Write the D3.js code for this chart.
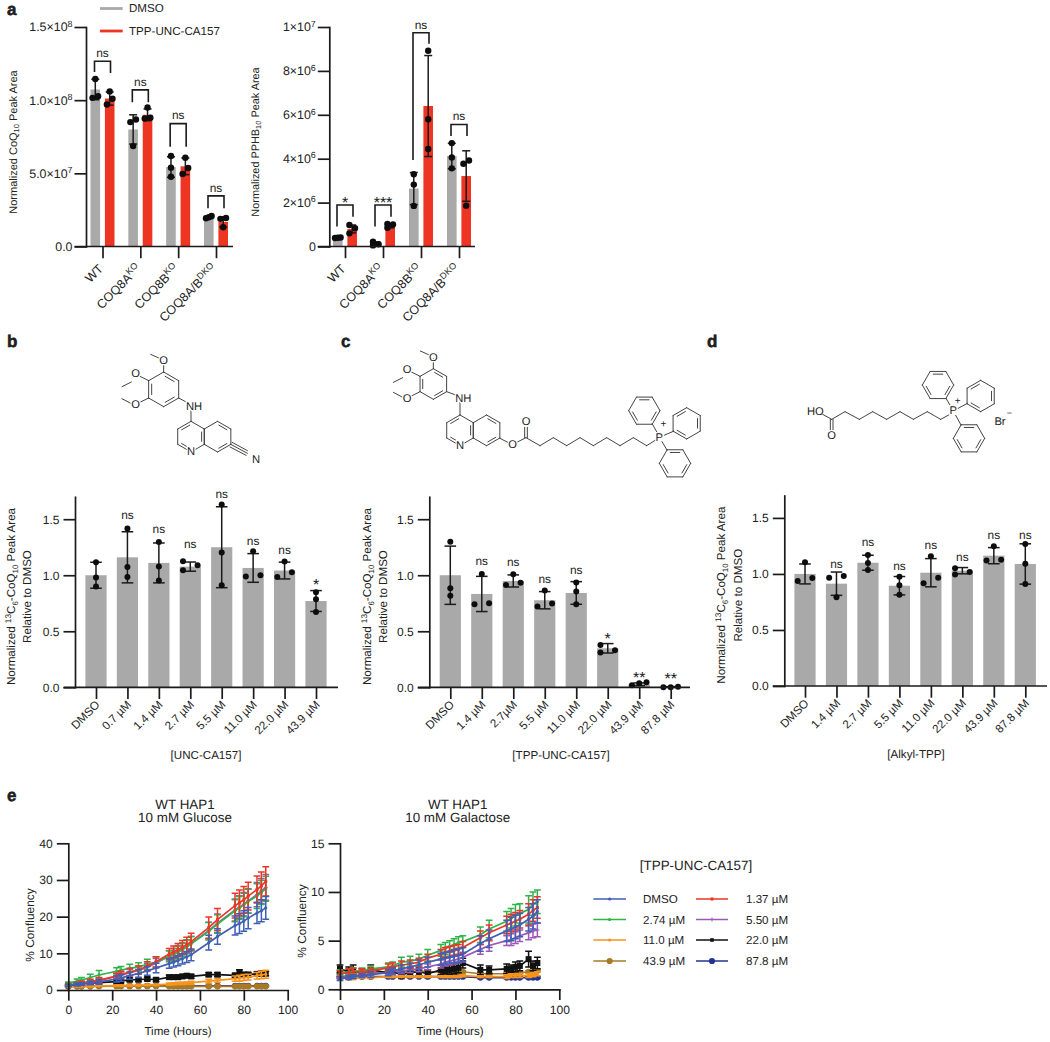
<!DOCTYPE html>
<html><head><meta charset="utf-8">
<script src="https://cdn.jsdelivr.net/npm/d3@7"></script>
<style>html,body{margin:0;padding:0;background:#fff}svg{display:block;text-rendering:geometricPrecision}text{font-family:"Liberation Sans",Arial,sans-serif;fill:#222}</style>
</head><body><svg id="c" width="1050" height="1042"></svg>
<script>
// ---------- panel a ----------
const aCats = ["WT","COQ8A^{KO}","COQ8B^{KO}","COQ8A/B^{DKO}"];
const a1TickVals = [0,0.5,1,1.5];
const a1TickLabels = ["0.0","5.0×10^{7}","1.0×10^{8}","1.5×10^{8}"];
const a1GrayMean = [1.073,0.80,0.543,0.20];
const a1GrayErr  = [0.07,0.10,0.07,0.01];
const a1GrayPts  = [[1.145,1.027,1.016],[0.868,0.85,0.686],[0.618,0.539,0.477],[0.209,0.2,0.193]];
const a1RedMean  = [1.011,0.90,0.548,0.168];
const a1RedErr   = [0.045,0.04,0.057,0.035];
const a1RedPts   = [[1.06,1.01,0.97],[0.95,0.88,0.875],[0.607,0.536,0.495],[0.195,0.189,0.132]];
const a1Brackets = [[1.266,1.193,1.186],[1.07,0.986,0.986],[0.84,0.682,0.682],[0.346,0.261,0.261]];
const a1Sig = ["ns","ns","ns","ns"];

const a2TickVals = [0,2,4,6,8,10];
const a2TickLabels = ["0","2×10^{6}","4×10^{6}","6×10^{6}","8×10^{6}","1×10^{7}"];
const a2GrayMean = [0.40,0.13,2.64,4.12];
const a2GrayErr  = [0.02,0.08,0.73,0.58];
const a2GrayPts  = [[0.41,0.40,0.39],[0.22,0.10,0.05],[3.29,2.82,1.85],[4.71,4.06,3.56]];
const a2RedMean  = [0.80,0.94,6.40,3.21];
const a2RedErr   = [0.18,0.09,2.30,1.15];
const a2RedPts   = [[0.98,0.83,0.60],[1.03,1.00,0.85],[8.92,5.80,4.44],[3.92,3.77,1.86]];
const a2Brackets = [[1.89,0.91,1.36],[1.89,0.91,1.36],[9.74,3.94,9.24],[5.56,5.03,5.03]];
const a2Sig = ["*","***","ns","ns"];

// ---------- panel b ----------
const bCats = ["DMSO","0.7 µM","1.4 µM","2.7 µM","5.5 µM","11.0 µM","22.0 µM","43.9 µM"];
const bMean = [1.0,1.16,1.11,1.077,1.25,1.065,1.042,0.77];
const bErr  = [0.116,0.228,0.178,0.041,0.361,0.128,0.075,0.093];
const bPts  = [[1.116,0.98,0.90],[1.417,1.074,0.985],[1.297,1.077,0.952],[1.125,1.09,1.045],[1.631,1.202,0.911],[1.214,1.0,0.988],[1.122,1.027,0.985],[0.848,0.786,0.673]];
const bSig  = ["","ns","ns","ns","ns","ns","ns","*"];
const bSigY = [0,1.50,1.38,1.24,1.685,1.27,1.19,0.865];

// ---------- panel c ----------
const cCats = ["DMSO","1.4 µM","2.7µM","5.5 µM","11.0 µM","22.0 µM","43.9 µM","87.8 µM"];
const cMean = [1.0,0.833,0.949,0.777,0.842,0.348,0.027,0.003];
const cErr  = [0.26,0.157,0.054,0.077,0.101,0.042,0.012,0.003];
const cPts  = [[1.298,0.884,0.818],[1.012,0.75,0.741],[1.009,0.932,0.914],[0.863,0.747,0.72],[0.935,0.854,0.741],[0.378,0.33,0.31],[0.045,0.036,0.018],[0.006,0.0,0.0]];
const cSig  = ["","ns","ns","ns","ns","*","**","**"];
const cSigY = [0,1.092,1.083,0.935,1.009,0.385,0.041,0.028];

// ---------- panel d ----------
const dCats = ["DMSO","1.4 µM","2.7 µM","5.5 µM","11.0 µM","22.0 µM","43.9 µM","87.8 µM"];
const dMean = [1.0,0.913,1.10,0.895,1.011,1.029,1.163,1.089];
const dErr  = [0.089,0.104,0.067,0.082,0.126,0.028,0.072,0.18];
const dPts  = [[1.104,0.963,0.936],[0.981,0.966,0.793],[1.169,1.098,1.035],[0.975,0.898,0.814],[1.157,0.966,0.916],[1.05,1.017,0.996],[1.247,1.127,1.121],[1.268,1.09,0.91]];
const dSig  = ["","ns","ns","ns","ns","ns","ns","ns"];
const dSigY = [0,1.05,1.247,1.035,1.223,1.118,1.315,1.315];
const rateTicks = [0,0.5,1,1.5];

// ---------- panel e ----------
const hours = [0,4,6,10,14,22,24,28,32,36,40,46,48,50,52,54,56,64,68,76,78,80,82,86,88,90];
const doses = ["DMSO","1.37 µM","2.74 µM","5.50 µM","11.0 µM","22.0 µM","43.9 µM","87.8 µM"];
const gluDMSO  = [1.2,1.5,1.6,1.9,2.2,3.0,3.3,3.9,4.5,5.2,6.0,7.2,7.6,8.0,8.5,9.0,9.6,12.9,14.6,17.6,18.1,18.8,19.6,21.0,21.6,22.4];
const gluDMSOe = [.3,.4,.4,.5,.6,.8,.9,1,1.1,1.2,1.3,1.3,1.3,1.4,1.4,1.5,1.6,2.0,2.1,2.6,2.7,2.8,2.9,2.9,3.0,3.1];
const glu137   = [1.3,1.7,1.9,2.3,2.7,3.8,4.2,4.9,5.5,6.5,7.7,9.8,10.4,11.0,11.7,12.4,13.2,17.0,19.2,23.0,23.8,24.6,25.6,27.4,28.4,29.6];
const glu137e  = [.3,.4,.5,.6,.7,.8,.9,1,1.1,1.2,1.4,1.5,1.6,1.7,1.8,2.0,2.3,2.9,3.0,3.4,3.5,3.6,3.8,3.7,3.8,4.0];
const glu274   = [1.8,2.4,2.7,3.4,4.1,5.1,5.4,5.9,6.3,7.0,7.6,9.2,9.7,10.3,11.0,11.8,12.6,16.0,18.0,21.6,22.4,23.2,24.2,25.6,26.6,27.6];
const glu274e  = [.4,.6,.7,.9,1.2,1.0,1.0,1.1,1.1,1.4,1.4,1.5,1.6,1.7,1.8,1.9,2.0,2.4,2.5,3.0,3.1,3.2,3.3,3.4,3.3,3.4];
const glu550   = [1.3,1.7,1.9,2.2,2.6,3.7,4.0,4.7,5.3,6.2,7.3,9.3,9.9,10.6,11.2,11.9,12.7,16.2,18.2,21.8,22.6,23.4,24.3,26,27,28];
const glu550e  = [.3,.4,.4,.5,.6,.8,.9,.9,1,1.1,1.3,1.4,1.4,1.5,1.6,1.7,1.9,2.3,2.5,3,3.1,3.2,3.3,3.3,3.4,3.5];
const glu110   = [.9,1,1,1,1.1,1.2,1.2,1.3,1.3,1.4,1.4,1.6,1.7,1.8,1.8,1.9,2,2.4,2.6,3.1,3.2,3.4,3.5,3.9,4.1,4.3];
const glu110e  = [.1,.1,.1,.1,.1,.15,.15,.2,.2,.2,.2,.3,.3,.3,.3,.3,.4,.5,.5,.7,.8,.8,.8,.9,1.0,1.1];
const glu220   = [1.3,1.6,1.7,1.9,2.0,2.3,2.4,2.8,2.8,3.0,2.8,3.5,3.5,3.5,3.7,3.9,3.7,4.2,4.2,4.0,4.9,4.2,4.2,4.4,4.5,4.5];
const glu220e  = [.2,.3,.3,.3,.3,.4,.4,.5,.5,.5,.5,.5,.5,.5,.5,.5,.5,.5,.5,.5,.6,.6,.6,.6,.6,.6];
const glu439   = [.9,.95,.95,1,1,1.05,1.05,1.05,1.05,1.05,1.05,1,1,1,1,1,1,1,1,1,1,1,1,1,1,1];
const glu439e  = [.1,.1,.1,.1,.1,.1,.1,.1,.1,.1,.1,.1,.1,.1,.1,.1,.1,.1,.1,.1,.1,.1,.1,.1,.1,.1];
const glu878   = [1.05,1.05,1.05,1.05,1.1,1.1,1.1,1.1,1.1,1.1,1.1,1.1,1.1,1.1,1.1,1.1,1.1,1.1,1.1,1.1,1.1,1.1,1.1,1.1,1.1,1.1];
const glu878e  = [.1,.1,.1,.1,.1,.1,.1,.1,.1,.1,.1,.1,.1,.1,.1,.1,.1,.1,.1,.1,.1,.1,.1,.1,.1,.1];

const galDMSO  = [1.1,1.2,1.3,1.4,1.5,1.7,1.9,2.1,2.3,2.5,2.8,3.1,3.2,3.3,3.4,3.5,3.6,4.7,5.2,6.0,6.2,6.4,6.6,7.2,7.5,8.0];
const galDMSOe = [.2,.2,.2,.2,.3,.3,.3,.4,.4,.5,.5,.6,.6,.6,.7,.7,.7,.8,.9,1.1,1.2,1.2,1.2,1.2,1.3,1.2];
const gal137   = [1.6,1.7,1.8,1.8,1.9,2.2,2.3,2.5,2.6,2.8,3.2,3.6,3.8,3.9,4.0,4.1,4.3,5.3,5.8,6.6,6.8,7.0,7.2,7.7,8.1,8.4];
const gal137e  = [.3,.4,.4,.3,.3,.4,.4,.4,.4,.4,.4,.5,.5,.5,.5,.5,.6,.7,.8,.9,.9,.9,.9,1.1,1.1,1.1];
const gal274   = [1.7,1.8,1.9,1.9,2.1,2.3,2.4,2.8,2.9,3.1,3.5,4.0,4.2,4.4,4.6,4.8,4.9,5.6,6.2,7.0,7.3,7.6,7.8,8.2,8.8,9.0];
const gal274e  = [.3,.3,.3,.3,.3,.4,.4,.5,.5,.5,.6,.6,.6,.6,.6,.6,.6,.8,.9,1.0,1.0,1.1,1.0,1.4,1.2,1.2];
const gal550   = [1.3,1.4,1.4,1.5,1.6,1.7,1.8,1.9,2.0,2.1,2.3,2.6,2.8,2.9,3.0,3.1,3.3,4.1,4.5,5.0,5.1,5.3,5.5,5.8,6.0,6.1];
const gal550e  = [.2,.2,.2,.2,.2,.2,.3,.3,.3,.3,.3,.4,.4,.4,.4,.4,.5,.5,.6,.5,.6,.6,.6,.7,.7,.7];
const gal110   = [1.2,1.1,1.1,1.2,1.2,1.3,1.3,1.3,1.3,1.3,1.3,1.3,1.3,1.3,1.3,1.3,1.4,1.3,1.3,1.3,1.4,1.4,1.4,1.4,1.5,1.6];
const gal110e  = [.1,.1,.1,.1,.1,.1,.1,.1,.1,.1,.1,.1,.1,.1,.1,.1,.1,.1,.1,.2,.2,.2,.2,.2,.2,.2];
const gal220   = [2.1,1.8,1.9,1.7,2.0,1.7,1.8,1.5,1.7,1.8,1.6,2.0,2.0,2.0,2.1,2.2,2.7,2.0,2.0,2.1,2.1,2.3,2.4,3.1,2.4,2.7];
const gal220e  = [.4,.5,.6,.4,.5,.5,.5,.4,.5,.4,.4,.5,.4,.5,.5,.5,.5,.5,.4,.5,.4,.5,.5,.8,.5,.6];
const gal439   = [1.7,1.7,1.7,1.7,1.7,1.8,1.8,1.8,1.8,1.9,1.8,1.8,1.8,1.8,1.8,1.8,1.8,1.6,1.6,1.6,1.7,1.7,1.7,1.8,1.8,1.9];
const gal439e  = [.1,.1,.1,.1,.1,.1,.1,.1,.1,.1,.1,.1,.1,.1,.1,.1,.1,.1,.1,.1,.1,.1,.1,.1,.1,.1];
const gal878   = [1.2,1.2,1.3,1.3,1.3,1.3,1.3,1.3,1.3,1.3,1.3,1.3,1.3,1.3,1.3,1.3,1.3,1.2,1.2,1.2,1.2,1.2,1.2,1.2,1.2,1.2];
const gal878e  = [.1,.1,.1,.1,.1,.1,.1,.1,.1,.1,.1,.1,.1,.1,.1,.1,.1,.1,.1,.1,.1,.1,.1,.1,.1,.1];

// ---------- styling ----------
const INK="#1c1a1a", GRAY="#a9a9a9", RED="#ee3524", FONT=11.6;
const doseColors={ "DMSO":"#3f5fb5","1.37 µM":"#ee3524","2.74 µM":"#2fb34a","5.50 µM":"#9b59b6","11.0 µM":"#f7941d","22.0 µM":"#111111","43.9 µM":"#a97a26","87.8 µM":"#25348f"};
const doseMark={ "DMSO":["c",1.6],"1.37 µM":["s",1.5],"2.74 µM":["c",1.6],"5.50 µM":["p",2],"11.0 µM":["c",1.6],"22.0 µM":["s",3],"43.9 µM":["c",3.1],"87.8 µM":["c",3.1]};
const drawOrder=["87.8 µM","43.9 µM","22.0 µM","11.0 µM","5.50 µM","2.74 µM","1.37 µM","DMSO"];

const svg=d3.select("#c");

// rich text: ^{sup} _{sub}
function rich(sel,str,size){
  sel.text(null);
  const parts=str.split(/(\^\{[^}]*\}|_\{[^}]*\})/).filter(s=>s!=="");
  let back=0;
  parts.forEach(p=>{
    const t=sel.append("tspan");
    if(p[0]==="^"&&p[1]==="{"){t.text(p.slice(2,-1)).attr("font-size",size*0.72).attr("dy",-size*0.38+back);back=size*0.38;}
    else if(p[0]==="_"&&p[1]==="{"){t.text(p.slice(2,-1)).attr("font-size",size*0.68).attr("dy",size*0.22+back);back=-size*0.22;}
    else {t.text(p);if(back)t.attr("dy",back);back=0;}
  });
}
function label(x,y,str,opts={}){
  const s=opts.size||FONT;
  const t=svg.append("text").attr("font-size",s).attr("text-anchor",opts.anchor||"middle")
    .attr("transform",`translate(${x},${y})`+(opts.rot?` rotate(${opts.rot})`:""));
  if(opts.bold)t.attr("font-weight","bold");
  rich(t,str,s);return t;
}
function styleAxis(g,w=1.7){
  g.selectAll("path,line").attr("stroke",INK).attr("stroke-width",w);
  g.selectAll(".domain").attr("stroke-linecap","square");
}
function swarm(vals,y,d,T){
  const idx=vals.map((v,i)=>i).sort((a,b)=>vals[a]-vals[b]);
  const off=new Array(vals.length).fill(0);
  let cl=[[idx[0]]];
  for(let k=1;k<idx.length;k++){
    if(Math.abs(y(vals[idx[k]])-y(vals[idx[k-1]]))<T)cl[cl.length-1].push(idx[k]);else cl.push([idx[k]]);
  }
  cl.forEach(c=>{
    if(c.length===2){off[c[0]]=-d;off[c[1]]=d;}
    if(c.length===3){
      const span=Math.abs(y(vals[c[0]])-y(vals[c[2]]));
      if(span<3.5){off[c[0]]=-d;off[c[1]]=0;off[c[2]]=d;}
      else{off[c[0]]=-d;off[c[1]]=d;off[c[2]]=-d;}
    }
  });
  return off;
}
function errDots(x,y,mean,err,pts,cap,r,d){
  const g=svg.append("g");
  g.append("line").attr("x1",x).attr("x2",x).attr("y1",y(mean+err)).attr("y2",y(Math.max(0,mean-err))).attr("stroke",INK).attr("stroke-width",1.5);
  [mean+err,Math.max(0,mean-err)].forEach(v=>g.append("line").attr("x1",x-cap).attr("x2",x+cap).attr("y1",y(v)).attr("y2",y(v)).attr("stroke",INK).attr("stroke-width",1.5));
  const off=swarm(pts,y,d,6);
  g.selectAll("circle").data(pts).join("circle").attr("cx",(v,i)=>x+off[i]).attr("cy",v=>y(v)).attr("r",r).attr("fill","#0d0d0d");
}
function yAxis(x,y,vals,labels,size=FONT+0.4,pad=4){
  const g=svg.append("g").attr("transform",`translate(${x},0)`)
    .call(d3.axisLeft(y).tickValues(vals).tickSize(11.5).tickSizeOuter(0).tickPadding(pad));
  styleAxis(g);
  g.selectAll(".tick text").attr("fill",INK).attr("font-size",size).attr("font-family","Liberation Sans,Arial,sans-serif")
    .each(function(d,i){rich(d3.select(this),labels[i],size);});
  return g;
}
function xAxisCat(x,y0,cats,baseL,baseR,tx,ty,size=FONT){
  const g=svg.append("g").attr("transform",`translate(0,${y0})`)
    .call(d3.axisBottom(x).tickSize(11.7).tickSizeOuter(0));
  g.select(".domain").remove();
  styleAxis(g);
  g.selectAll(".tick text").attr("x",0).attr("y",0).attr("dy",0).attr("text-anchor","end").attr("fill",INK)
    .attr("font-size",size).attr("font-family","Liberation Sans,Arial,sans-serif")
    .attr("transform",`translate(${tx},${ty}) rotate(-45)`)
    .each(function(d){rich(d3.select(this),d,size);});
  svg.append("line").attr("x1",baseL).attr("x2",baseR).attr("y1",y0).attr("y2",y0).attr("stroke",INK).attr("stroke-width",1.7);
}

// ---------- panel a drawer ----------
function panelA(cfg){
  const y=d3.scaleLinear().domain(cfg.domain).range([246.5,27]);
  const x=d3.scalePoint().domain(aCats).range(cfg.xr);
  aCats.forEach((c,i)=>{
    const xg=x(c)-7.2,xr=x(c)+7.2;
    svg.append("rect").attr("x",xg-4.8).attr("width",9.6).attr("y",y(cfg.gm[i])).attr("height",y(0)-y(cfg.gm[i])).attr("fill",GRAY);
    svg.append("rect").attr("x",xr-4.8).attr("width",9.6).attr("y",y(cfg.rm[i])).attr("height",y(0)-y(cfg.rm[i])).attr("fill",RED);
    errDots(xg,y,cfg.gm[i],cfg.ge[i],cfg.gp[i],4,3.2,2.8);
    errDots(xr,y,cfg.rm[i],cfg.re[i],cfg.rp[i],4,3.2,2.8);
    const [top,l,r]=cfg.br[i];
    svg.append("path").attr("fill","none").attr("stroke",INK).attr("stroke-width",1.6)
      .attr("d",d3.line()([[x(c)-8,y(l)],[x(c)-8,y(top)],[x(c)+8,y(top)],[x(c)+8,y(r)]]));
    const star=cfg.sig[i]!=="ns";
    label(x(c),y(top)-(star?0:4.2),cfg.sig[i],{size:star?16:FONT+0.3}).attr("dy",star?"3":null);
  });
  yAxis(cfg.ax,y,cfg.tv,cfg.tl,12.4,2);
  xAxisCat(x,246.5,aCats,cfg.ax-11.5,cfg.xEnd,1,23,12.5);
  label(cfg.labX,142,cfg.title,{rot:-90,size:cfg.titleSize});
}
panelA({domain:[0,1.5],xr:[102.5,216],ax:86,xEnd:233,labX:16.5,titleSize:11,tv:a1TickVals,tl:a1TickLabels,
  gm:a1GrayMean,ge:a1GrayErr,gp:a1GrayPts,rm:a1RedMean,re:a1RedErr,rp:a1RedPts,br:a1Brackets,sig:a1Sig,
  title:"Normalized CoQ_{10} Peak Area"});
panelA({domain:[0,10],xr:[345,459],ax:329.3,xEnd:475,labX:259,titleSize:10.9,tv:a2TickVals,tl:a2TickLabels,
  gm:a2GrayMean,ge:a2GrayErr,gp:a2GrayPts,rm:a2RedMean,re:a2RedErr,rp:a2RedPts,br:a2Brackets,sig:a2Sig,
  title:"Normalized PPHB_{10} Peak Area"});
// panel a legend
[["DMSO",GRAY,8.5,12],["TPP-UNC-CA157",RED,31,35]].forEach(([t,c,ly,by])=>{
  svg.append("line").attr("x1",100).attr("x2",122.7).attr("y1",ly).attr("y2",ly).attr("stroke",c).attr("stroke-width",2.8);
  label(129,by,t,{anchor:"start"});
});

// ---------- panels b/c/d ----------
function panelBar(cfg){
  const y=d3.scaleLinear().domain([0,1.7]).range([cfg.y0,cfg.y0-190.5]);
  const x=d3.scalePoint().domain(cfg.cats).range(cfg.xr);
  cfg.cats.forEach((c,i)=>{
    svg.append("rect").attr("x",x(c)-10.6).attr("width",21.2).attr("y",y(cfg.mean[i])).attr("height",y(0)-y(cfg.mean[i])).attr("fill",GRAY);
  });
  cfg.cats.forEach((c,i)=>{
    errDots(x(c),y,cfg.mean[i],cfg.err[i],cfg.pts[i],5.8,3,7.3);
    if(cfg.sig[i]){
      const star=cfg.sig[i]!=="ns";
      label(x(c),y(cfg.sigY[i]),cfg.sig[i],{size:star?16:FONT+0.3});
    }
  });
  yAxis(cfg.ax,y,rateTicks,rateTicks.map(d3.format(".1f")));
  xAxisCat(x,cfg.y0,cfg.cats,cfg.ax-11.5,cfg.xEnd,4,18);
  label(cfg.lab1,596.5+(cfg.y0-687.3),"Normalized ^{13}C_{6}-CoQ_{10} Peak Area",{rot:-90});
  label(cfg.lab2,596.5+(cfg.y0-687.3),"Relative to DMSO",{rot:-90});
  label(cfg.tx,cfg.y0+72,cfg.xt);
}
panelBar({cats:bCats,mean:bMean,err:bErr,pts:bPts,sig:bSig,sigY:bSigY,y0:687.3,xr:[96,316],ax:75,xEnd:338,lab1:15,lab2:31,tx:206,xt:"[UNC-CA157]"});
panelBar({cats:cCats,mean:cMean,err:cErr,pts:cPts,sig:cSig,sigY:cSigY,y0:687.3,xr:[450.3,670.7],ax:429.3,xEnd:690,lab1:371,lab2:387,tx:561,xt:"[TPP-UNC-CA157]"});
panelBar({cats:dCats,mean:dMean,err:dErr,pts:dPts,sig:dSig,sigY:dSigY,y0:686,xr:[805,1025.3],ax:784.3,xEnd:1047,lab1:725,lab2:742,tx:916,xt:"[Alkyl-TPP]"});

// ---------- panel e ----------
function marker(g,cx,cy,col,m){
  if(m[0]==="c")g.append("circle").attr("cx",cx).attr("cy",cy).attr("r",m[1]).attr("fill",col);
  else if(m[0]==="s")g.append("rect").attr("x",cx-m[1]).attr("y",cy-m[1]).attr("width",m[1]*2).attr("height",m[1]*2).attr("fill",col);
  else g.append("path").attr("d",`M${cx-m[1]},${cy}H${cx+m[1]}M${cx},${cy-m[1]}V${cy+m[1]}`).attr("stroke",col).attr("stroke-width",1);
}
function growth(cfg){
  const x=d3.scaleLinear().domain([0,100]).range(cfg.xr);
  const y=d3.scaleLinear().domain(cfg.ydom).range(cfg.yr);
  const line=d3.line().x((d,i)=>x(hours[i])).y(d=>y(d));
  const G=svg.append("g");
  drawOrder.forEach(name=>{
    const col=doseColors[name],vals=cfg.vals[name],errs=cfg.errs[name];
    const g=G.append("g");
    vals.forEach((v,i)=>{
      const px=x(hours[i]);
      g.append("path").attr("fill","none").attr("stroke",col).attr("stroke-width",1.5)
        .attr("d",`M${px-3.4},${y(v+errs[i])}H${px+3.4}M${px},${y(v+errs[i])}V${y(Math.max(0,v-errs[i]))}M${px-3.4},${y(Math.max(0,v-errs[i]))}H${px+3.4}`);
    });
    g.append("path").attr("fill","none").attr("stroke",col).attr("stroke-width",1.7).attr("d",line(vals));
    vals.forEach((v,i)=>marker(g,x(hours[i]),y(v),col,doseMark[name]));
  });
  const gy=svg.append("g").attr("transform",`translate(${cfg.xr[0]},0)`)
    .call(d3.axisLeft(y).tickValues(cfg.yt).tickSize(11.5).tickSizeOuter(0).tickPadding(4));
  const gx=svg.append("g").attr("transform",`translate(0,${cfg.yr[0]})`)
    .call(d3.axisBottom(x).tickValues([0,20,40,60,80,100]).tickSize(10.7).tickSizeOuter(0).tickPadding(5));
  [gx,gy].forEach(g=>{styleAxis(g);g.selectAll(".tick text").attr("fill",INK).attr("font-size",FONT+0.5).attr("font-family","Liberation Sans,Arial,sans-serif");});
  label(cfg.tx,809,"WT HAP1",{size:13.4});
  label(cfg.tx,822,cfg.title,{size:13.4});
  label(cfg.xt,1035,"Time (Hours)");
  label(cfg.yl,cfg.ylc,"% Confluency",{rot:-90,size:FONT+0.3});
}
function byDose(arr){const o={};doses.forEach((d,i)=>o[d]=arr[i]);return o;}
growth({xr:[68.3,287.7],yr:[990,843.3],ydom:[0,40],yt:[0,10,20,30,40],tx:185,xt:178,yl:33.5,ylc:925,title:"10 mM Glucose",
  vals:byDose([gluDMSO,glu137,glu274,glu550,glu110,glu220,glu439,glu878]),
  errs:byDose([gluDMSOe,glu137e,glu274e,glu550e,glu110e,glu220e,glu439e,glu878e])});
growth({xr:[340,559.3],yr:[989.3,843.3],ydom:[0,15],yt:[0,5,10,15],tx:457.7,xt:450,yl:305.5,ylc:921,title:"10 mM Galactose",
  vals:byDose([galDMSO,gal137,gal274,gal550,gal110,gal220,gal439,gal878]),
  errs:byDose([galDMSOe,gal137e,gal274e,gal550e,gal110e,gal220e,gal439e,gal878e])});
// legend
label(696,870,"[TPP-UNC-CA157]",{size:13.4});
const legendRows=[899,919.5,940,961];
doses.forEach((name,i)=>{
  const col2=i%2===1,row=legendRows[Math.floor(i/2)];
  const x0=col2?696:593.3,x1=col2?728:626,tx=col2?746:643;
  svg.append("line").attr("x1",x0).attr("x2",x1).attr("y1",row).attr("y2",row).attr("stroke",doseColors[name]).attr("stroke-width",1.5);
  marker(svg,(x0+x1)/2,row,doseColors[name],doseMark[name][0]==="s"&&doseMark[name][1]>2?["s",1.8]:doseMark[name]);
  label(tx,row+4.2,name,{anchor:"start"});
});

// ---------- panel letters ----------
[["a",7,15],["b",7,347],["c",341,347],["d",707,347],["e",7,801]].forEach(([t,x,y])=>{
  label(x,y,t,{anchor:"start",size:17,bold:true}).attr("stroke","#111").attr("stroke-width",0.5);
});

// ---------- chemical structures ----------
function chem(ox,oy){
  const k=1/3,g=svg.append("g");
  const X=v=>ox+v*k,Y=v=>oy+v*k;
  const bond=(x1,y1,x2,y2)=>g.append("line").attr("x1",X(x1)).attr("y1",Y(y1)).attr("x2",X(x2)).attr("y2",Y(y2)).attr("stroke","#3a3a3a").attr("stroke-width",0.95).attr("stroke-linecap","round");
  return {
    bond,
    poly(pts){for(let i=0;i<pts.length-1;i++)bond(pts[i][0],pts[i][1],pts[i+1][0],pts[i+1][1]);},
    ring(cx,cy,r,rot,dbl){
      const v=d3.range(6).map(i=>{const a=(rot-90+60*i)*Math.PI/180;return [cx+r*Math.cos(a),cy+r*Math.sin(a)];});
      v.forEach((p,i)=>{
        const q=v[(i+1)%6];bond(p[0],p[1],q[0],q[1]);
        if(dbl.includes(i)){
          const s=0.8,m=0.12;
          const a=[cx+(p[0]-cx)*s,cy+(p[1]-cy)*s],b=[cx+(q[0]-cx)*s,cy+(q[1]-cy)*s];
          bond(a[0]+(b[0]-a[0])*m,a[1]+(b[1]-a[1])*m,b[0]-(b[0]-a[0])*m,b[1]-(b[1]-a[1])*m);
        }
      });
    },
    atom(x,y,t,size=11.2){
      g.append("text").attr("x",X(x)).attr("y",Y(y)).attr("font-size",size).attr("text-anchor","middle").attr("dominant-baseline","central")
        .attr("stroke","#fff").attr("stroke-width",2.5).attr("paint-order","stroke").text(t);
    }
  };
}
function trimethoxyQuinoline(c,ax,ay,r,qx,qy,qr,nhx,nhy){
  // aryl ring
  c.ring(ax,ay,r,0,[0,2,4]);
  const h=r*0.866;
  c.poly([[ax,ay-r],[ax,ay-r-30]]);c.poly([[ax-10,ay-r-40],[ax-39,ay-r-53]]);
  c.poly([[ax-h,ay-r/2],[ax-h-26,ay-r/2-13]]);c.poly([[ax-h-52,ay-r/2+4],[ax-h-80,ay-r/2+5+13]].map(p=>p));
  c.poly([[ax-h,ay+r/2],[ax-h-26,ay+r/2+13]]);c.poly([[ax-h-52,ay+r/2+17],[ax-h-80,ay+r/2+2]]);
  c.atom(ax,ay-r-33,"O");c.atom(ax-h-39,ay-r/2-19,"O");c.atom(ax-h-39,ay+r/2+21,"O");
  c.poly([[ax+h,ay+r/2],[nhx-12,nhy-8]]);
  c.poly([[qx,qy-qr],[qx,nhy+10]]);
  c.atom(nhx,nhy,"NH");
  const qh=qr*0.866;
  c.ring(qx,qy,qr,0,[5,3,1]);
  c.ring(qx+2*qh,qy,qr,0,[0,2]);
  c.atom(qx,qy+qr,"N");
}
// b
(function(){const c=chem(0,340);
  trimethoxyQuinoline(c,491,148,52,573,290,46,582,200);
  const ex=573+3*39.8,ey=290+23;
  c.bond(ex,ey,ex+50,ey+27);c.bond(ex+4,ey-6,ex+50,ey+19);c.bond(ex-2,ey+8,ex+46,ey+33);
  c.atom(768,361,"N");
})();
// c
(function(){const c=chem(340,340);
  trimethoxyQuinoline(c,280,132,46,360,271,46,370,177);
  c.poly([[480,295],[505,308]]);c.poly([[530,307],[558,293]]);c.atom(518,315,"O");
  c.bond(554,293,554,262);c.bond(562,293,562,262);c.atom(558,247,"O");
  c.poly([[558,293],[600,317],[640,293],[680,317],[720,293],[760,317],[800,293],[840,317],[880,293],[920,317],[947,300]]);
  c.ring(913,212,47,30,[1,3,5]);c.bond(937,252,951,277);
  c.ring(1040,250,47,0,[1,3,5]);c.bond(1000,274,972,286);
  c.ring(1005,370,47,30,[1,3,5]);c.bond(981,330,966,305);
  c.atom(958,293,"P");c.atom(970,254,"+",10);
})();
// d
(function(){const c=chem(690,340);
  c.atom(376,215,"HO");c.poly([[398,223],[425,238]]);
  c.bond(421,238,421,270);c.bond(429,238,429,270);c.atom(425,287,"O");
  c.poly([[425,238],[465,215],[508,238],[548,215],[590,238],[630,215],[670,238],[712,215],[752,238],[778,224]]);
  c.ring(744,135,47,30,[1,3,5]);c.bond(768,175,783,200);
  c.ring(872,168,47,0,[1,3,5]);c.bond(832,190,803,206);
  c.ring(837,295,47,30,[1,3,5]);c.bond(813,255,797,226);
  c.atom(790,214,"P");c.atom(803,183,"+",10);
  c.atom(930,245,"Br");c.atom(958,220,"−",9);
})();
</script></body></html>
